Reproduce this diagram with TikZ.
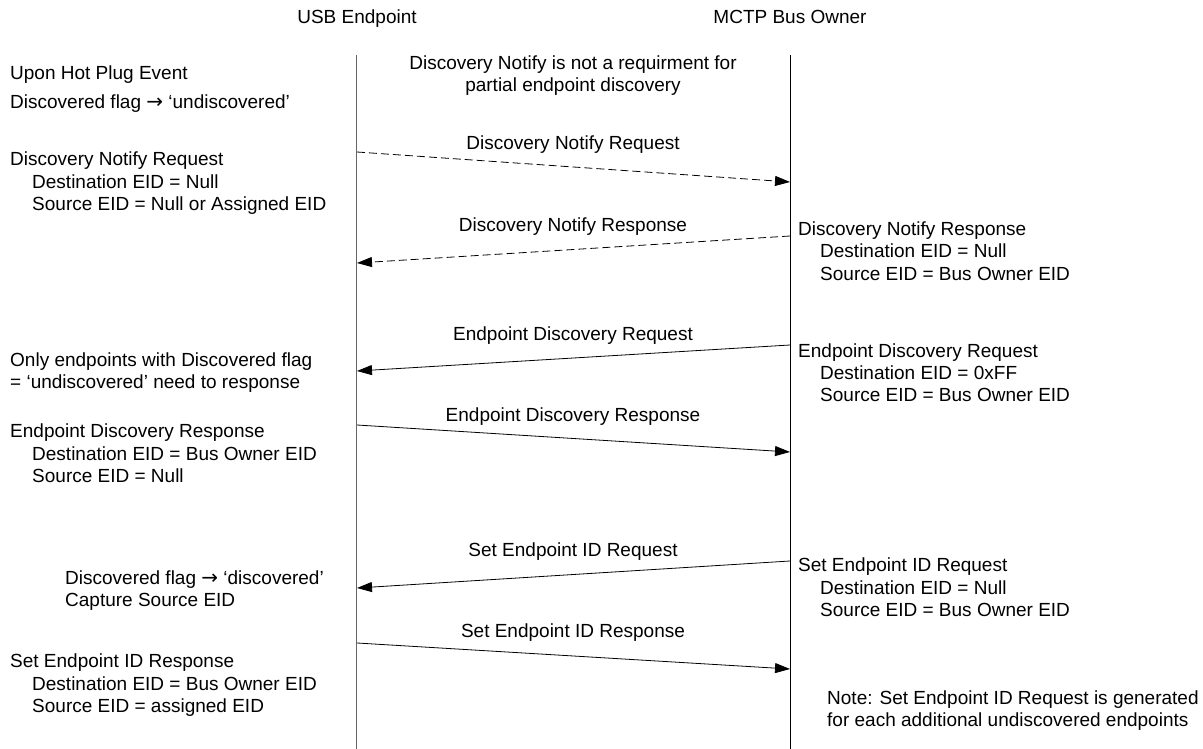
\documentclass[tikz,border=0pt]{standalone}
\usepackage{fontspec}
\setmainfont{Liberation Sans}
\newfontfamily\arrowfont{DejaVu Sans}
\newcommand{\rarr}{{\arrowfont\fontsize{20}{22.4}\selectfont →}}
\usetikzlibrary{arrows.meta}
\begin{document}
\begin{tikzpicture}[x=1pt,y=-1pt,
  txt/.style={font=\fontsize{19}{22.4}\selectfont, inner sep=0pt, anchor=base west},
  ctxt/.style={font=\fontsize{19}{22.4}\selectfont, inner sep=0pt, anchor=base},
  lifeL/.style={draw=black!60, line width=1pt},
  lifeR/.style={draw=black, line width=1pt},
  msg/.style={draw=black, line width=0.8pt, -{Triangle[length=15pt,width=10pt]}},
  dmsg/.style={msg, dash pattern=on 8pt off 4pt}]
\useasboundingbox (0,0) rectangle (1203,749);
\fill[white] (0,0) rectangle (1203,749);

% headers
\node[ctxt] (hdrL) at (357,24) {USB Endpoint};
\node[ctxt] (hdrR) at (790,24) {MCTP Bus Owner};

% lifelines
\coordinate (Ltop) at (356.5,55);
\coordinate (Lbot) at (356.5,749);
\coordinate (Rtop) at (790.5,55);
\coordinate (Rbot) at (790.5,749);
\draw[lifeL] (Ltop) -- (Lbot);
\draw[lifeR] (Rtop) -- (Rbot);

% top note
\node[ctxt] (note1) at (573,70) {Discovery Notify is not a requirment for};
\node[ctxt] (note2) at (573,92) {partial endpoint discovery};

% message end points
\coordinate (m1s) at (357,152); \coordinate (m1e) at (790,182);
\coordinate (m2s) at (790,236); \coordinate (m2e) at (357,263);
\coordinate (m3s) at (790,345); \coordinate (m3e) at (357,371);
\coordinate (m4s) at (357,425); \coordinate (m4e) at (790,452);
\coordinate (m5s) at (790,561); \coordinate (m5e) at (357,588);
\coordinate (m6s) at (357,643); \coordinate (m6e) at (790,669);

\draw[dmsg] (m1s) -- (m1e);
\draw[dmsg] (m2s) -- (m2e);
\draw[msg] (m3s) -- (m3e);
\draw[msg] (m4s) -- (m4e);
\draw[msg] (m5s) -- (m5e);
\draw[msg] (m6s) -- (m6e);

% message labels
\node[ctxt] (l1) at (573,150) {Discovery Notify Request};
\node[ctxt] (l2) at (573,232) {Discovery Notify Response};
\node[ctxt] (l3) at (573,340) {Endpoint Discovery Request};
\node[ctxt] (l4) at (573,421) {Endpoint Discovery Response};
\node[ctxt] (l5) at (573,556) {Set Endpoint ID Request};
\node[ctxt] (l6) at (573,637) {Set Endpoint ID Response};

% left column
\node[txt] (a1) at (10,80) {Upon Hot Plug Event};
\node[txt] (a2) at (10,109) {Discovered flag \rarr{} ‘undiscovered’};
\node[txt] (b1) at (10,166) {Discovery Notify Request};
\node[txt] (b2) at (32,189) {Destination EID = Null};
\node[txt] (b3) at (32,211) {Source EID = Null or Assigned EID};
\node[txt] (c1) at (10,366) {Only endpoints with Discovered flag};
\node[txt] (c2) at (10,388) {= ‘undiscovered’ need to response};
\node[txt] (d1) at (10,437) {Endpoint Discovery Response};
\node[txt] (d2) at (32,460) {Destination EID = Bus Owner EID};
\node[txt] (d3) at (32,482) {Source EID = Null};
\node[txt] (e1) at (65,584) {Discovered flag \rarr{} ‘discovered’};
\node[txt] (e2) at (65,606) {Capture Source EID};
\node[txt] (f1) at (10,667) {Set Endpoint ID Response};
\node[txt] (f2) at (32,690) {Destination EID = Bus Owner EID};
\node[txt] (f3) at (32,712) {Source EID = assigned EID};

% right column
\node[txt] (g1) at (798,236) {Discovery Notify Response};
\node[txt] (g2) at (820,258) {Destination EID = Null};
\node[txt] (g3) at (820,280) {Source EID = Bus Owner EID};
\node[txt] (h1) at (798,357) {Endpoint Discovery Request};
\node[txt] (h2) at (820,379) {Destination EID = 0xFF};
\node[txt] (h3) at (820,401) {Source EID = Bus Owner EID};
\node[txt] (i1) at (798,571) {Set Endpoint ID Request};
\node[txt] (i2) at (820,594) {Destination EID = Null};
\node[txt] (i3) at (820,616) {Source EID = Bus Owner EID};
\node[txt] (n1) at (827,704) {Note: Set Endpoint ID Request is generated};
\node[txt] (n2) at (827,726) {for each additional undiscovered endpoints};
\end{tikzpicture}
\end{document}
